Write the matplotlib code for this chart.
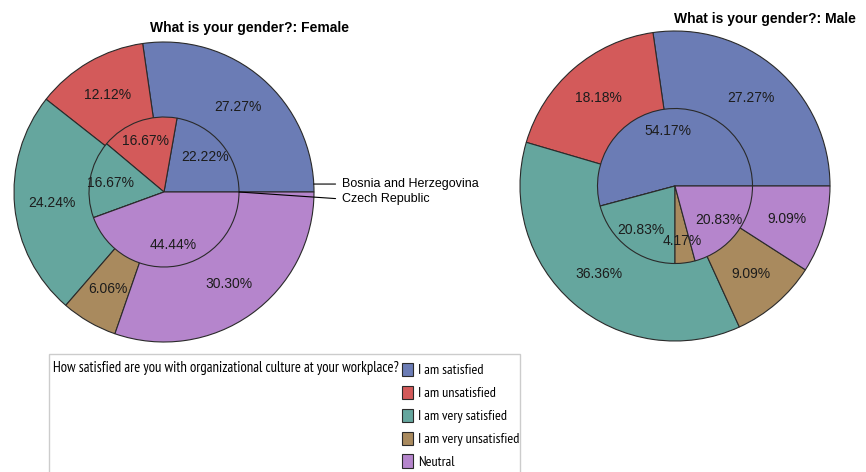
import numpy as np
import matplotlib.pyplot as plt
from matplotlib.patches import Patch, Rectangle

# satisfaction with organizational culture, split by gender and country
categories = ['I am satisfied', 'I am unsatisfied', 'I am very satisfied',
              'I am very unsatisfied', 'Neutral']
colors = ['#6b7cb5', '#d35a5a', '#65a69e', '#a98a5e', '#b585cc']

female_bih = [27.27, 12.12, 24.24, 6.06, 30.30]
female_cz = [22.22, 16.67, 16.67, 0.0, 44.44]
male_bih = [27.27, 18.18, 36.36, 9.09, 9.09]
male_cz = [54.17, 0.0, 20.83, 4.17, 20.83]

W, H = 866, 472
plt.rcParams['font.family'] = ['Liberation Sans', 'DejaVu Sans']
fig = plt.figure(figsize=(W / 100, H / 100), dpi=100)


def pie_axes(cx, cy, r):
    # axes in pixel units, pie of radius 1 fills it
    ax = fig.add_axes([(cx - r) / W, 1 - (cy + r) / H, 2 * r / W, 2 * r / H])
    ax.axis('off')
    return ax


def nested_pie(ax, outer, inner):
    wp = dict(edgecolor='#2a2a2a', linewidth=0.8)
    for vals, rad, pd in ((outer, 1.0, 0.75), (inner, 0.5, 0.72)):
        _, _, at = ax.pie(vals, radius=rad, colors=colors, startangle=0,
                          counterclock=True, wedgeprops=wp,
                          autopct=lambda p: '', pctdistance=pd)
        for t, v in zip(at, vals):
            t.set_text(f'{v:.2f}%' if v else '')
            t.set_fontsize(10)
            t.set_color('#1c1c1c')
    ax.set_xlim(-1, 1)
    ax.set_ylim(-1, 1)


ax1 = pie_axes(164, 192, 150)
nested_pie(ax1, female_bih, female_cz)
ax2 = pie_axes(675, 186, 155)
nested_pie(ax2, male_bih, male_cz)

fig.text(250 / W, 1 - 28 / H, 'What is your gender?: Female', ha='center',
         va='center', fontsize=10, fontweight='bold')
fig.text(765 / W, 1 - 19 / H, 'What is your gender?: Male', ha='center',
         va='center', fontsize=10, fontweight='bold')

# ring labels (outer ring = Bosnia, inner ring = Czech Republic)
lp = dict(arrowstyle='-', color='black', lw=0.8, shrinkA=3, shrinkB=0,
          relpos=(0, 0.5))
a = np.arcsin(0.053)
ax1.annotate('Bosnia and Herzegovina', xy=(np.cos(a), np.sin(a)),
             xytext=(1.19, 0.053), fontsize=9, ha='left', va='center',
             arrowprops=lp)
ax1.annotate('Czech Republic', xy=(0.5, 0.0), xytext=(1.19, -0.047),
             fontsize=9, ha='left', va='center', arrowprops=lp)

# legend
fig.patches.append(Rectangle((49 / W, -0.01), (520 - 49) / W, 1.01 - 354 / H,
                             transform=fig.transFigure, fill=False,
                             edgecolor='#cccccc', linewidth=1))
narrow = ['PT Sans Narrow', 'Roboto Condensed', 'Liberation Sans']
ltitle = fig.text(53 / W, 1 - 368 / H,
                  'How satisfied are you with organizational culture at your workplace?',
                  ha='left', va='center', fontsize=11, family=narrow)
# shrink the condensed font so the question spans ~346 px
rend = fig.canvas.get_renderer()
fs = 11 * 346 / ltitle.get_window_extent(rend).width
ltitle.set_fontsize(fs)

handles = [Patch(facecolor=c, edgecolor='#2a2a2a', linewidth=0.8)
           for c in colors]
leg = fig.legend(handles, categories, loc='upper left',
                 bbox_to_anchor=(392 / W, 1 - 353 / H), frameon=False,
                 handlelength=0.75, handleheight=1.05, handletextpad=0.4,
                 labelspacing=0.6, borderpad=0.2,
                 prop=dict(family=narrow, size=fs * 0.97))

fig.savefig('out.png', dpi=100)
